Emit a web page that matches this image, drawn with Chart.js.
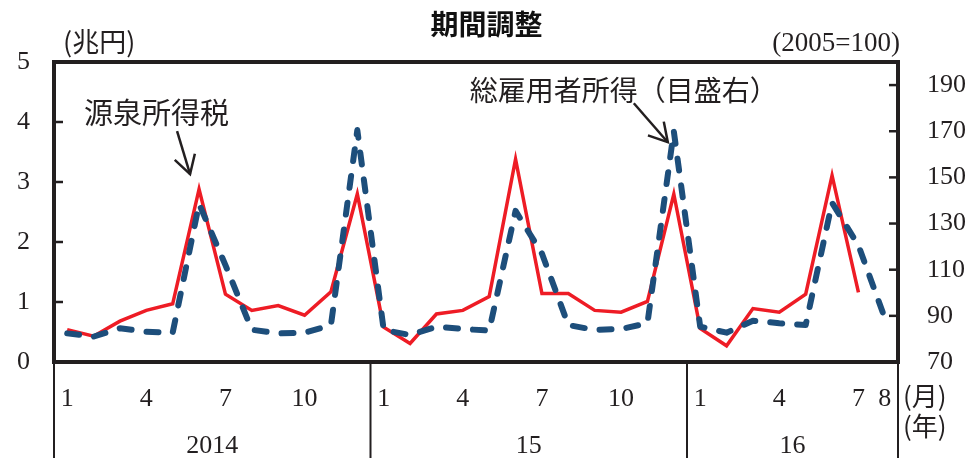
<!DOCTYPE html>
<html>
<head>
<meta charset="utf-8">
<script src="https://cdn.jsdelivr.net/npm/chart.js@4"></script>
<style>
  html, body { margin: 0; padding: 0; background: #ffffff; }
  #wrap { width: 973px; height: 458px; }
</style>
</head>
<body>
<div id="wrap"><canvas id="c" width="973" height="458"></canvas></div>
<script>
// Months, Jan 2014 – Aug 2016
const months = [1,2,3,4,5,6,7,8,9,10,11,12,
                1,2,3,4,5,6,7,8,9,10,11,12,
                1,2,3,4,5,6,7,8];
const years = ['2014', '15', '16'];
const yearStartIndex = [0, 12, 24];
const monthsShown = [1, 4, 7, 10];

// 源泉所得税 (兆円, left axis)
const withholdingTax = [0.54, 0.43, 0.68, 0.86, 0.97, 2.88, 1.13, 0.86, 0.94, 0.78, 1.17, 2.80,
                        0.58, 0.31, 0.80, 0.86, 1.09, 3.38, 1.14, 1.14, 0.86, 0.83, 1.01, 2.80,
                        0.56, 0.27, 0.89, 0.83, 1.13, 3.11, 1.16, null];

// 総雇用者所得 (2005=100, right axis)
const totalEmployeeIncome = [82.4, 81.0, 84.6, 83.1, 82.7, 138.5, 112.0, 84.0, 82.4, 82.7, 86.0, 170.5,
                             83.9, 81.7, 85.3, 84.3, 83.6, 135.5, 117.0, 86.0, 83.9, 84.3, 86.8, 170.0,
                             85.3, 82.7, 87.9, 86.8, 86.0, 139.0, 120.5, 89.0];

const leftTicks = [0, 1, 2, 3, 4, 5];
const rightTicks = [70, 90, 110, 130, 150, 170, 190];

const INK = '#231F20';
const SERIF = '"Liberation Serif", "DejaVu Serif", serif';
const JP = '"Noto Sans CJK JP", "Noto Sans", sans-serif';

// Frame, inward tick marks, year separators and annotations
const decorations = {
  id: 'decorations',
  afterDatasetsDraw(chart) {
    const ctx = chart.ctx;
    const a = chart.chartArea;
    const x = chart.scales.x, y = chart.scales.y, y1 = chart.scales.y1;
    const half = (x.getPixelForValue(1) - x.getPixelForValue(0)) / 2;
    ctx.save();
    ctx.strokeStyle = INK;
    ctx.lineCap = 'butt';

    // inward ticks, left axis
    ctx.lineWidth = 2.5;
    leftTicks.forEach(v => {
      if (v === 0 || v === 5) return;
      const py = y.getPixelForValue(v);
      ctx.beginPath(); ctx.moveTo(a.left, py); ctx.lineTo(a.left + 9, py); ctx.stroke();
    });
    // inward ticks, right axis
    rightTicks.forEach(v => {
      if (v === 70) return;
      const py = y1.getPixelForValue(v);
      ctx.beginPath(); ctx.moveTo(a.right, py); ctx.lineTo(a.right - 9, py); ctx.stroke();
    });

    // year separators under the axis
    ctx.lineWidth = 2;
    const bounds = yearStartIndex.map(i => x.getPixelForValue(i) - half).concat([a.right]);
    bounds.forEach(bx => {
      ctx.beginPath(); ctx.moveTo(bx, a.bottom); ctx.lineTo(bx, chart.height); ctx.stroke();
    });

    // year labels
    ctx.fillStyle = INK;
    ctx.font = '26px ' + SERIF;
    ctx.textAlign = 'center';
    ctx.textBaseline = 'middle';
    years.forEach((label, k) => {
      ctx.fillText(label, (bounds[k] + bounds[k + 1]) / 2, 446);
    });

    // (月) (年)
    ctx.font = '26px ' + JP;
    ctx.textAlign = 'left';
    ctx.fillText('(月)', a.right + 5, 396);
    ctx.fillText('(年)', a.right + 5, 426);

    // units
    ctx.font = '27px ' + JP;
    ctx.fillText('(兆円)', a.left + 9, 42);
    ctx.font = '27px ' + SERIF;
    ctx.textAlign = 'right';
    ctx.fillText('(2005=100)', a.right + 2, 44);

    // frame
    ctx.lineWidth = 4;
    ctx.strokeRect(a.left, a.top, a.right - a.left, a.bottom - a.top);

    // annotations, anchored on the peaks they point to
    const arrow = (tx, ty, hx, hy) => {
      ctx.lineWidth = 2.5;
      ctx.beginPath(); ctx.moveTo(tx, ty); ctx.lineTo(hx, hy); ctx.stroke();
      const ang = Math.atan2(ty - hy, tx - hx);
      const len = 21, spread = Math.PI / 6;
      ctx.beginPath();
      ctx.moveTo(hx + len * Math.cos(ang - spread), hy + len * Math.sin(ang - spread));
      ctx.lineTo(hx, hy);
      ctx.lineTo(hx + len * Math.cos(ang + spread), hy + len * Math.sin(ang + spread));
      ctx.stroke();
    };

    const px1 = x.getPixelForValue(5), py1 = y.getPixelForValue(withholdingTax[5]);
    ctx.font = '29px ' + JP;
    ctx.textAlign = 'left';
    ctx.textBaseline = 'middle';
    ctx.fillText('源泉所得税', px1 - 115, py1 - 76);
    arrow(px1 - 22, py1 - 58, px1 - 9, py1 - 15);

    const px2 = x.getPixelForValue(23), py2 = y1.getPixelForValue(totalEmployeeIncome[23]);
    ctx.font = '28px ' + JP;
    ctx.fillText('総雇用者所得（目盛右）', px2 - 204, py2 - 41);
    arrow(px2 - 40, py2 - 28, px2 - 6, py2 + 11);

    ctx.restore();
  }
};

new Chart(document.getElementById('c'), {
  type: 'line',
  data: {
    labels: months.map(String),
    datasets: [
      {
        label: '源泉所得税',
        data: withholdingTax,
        yAxisID: 'y',
        borderColor: '#EE1C25',
        borderWidth: 3.5,
        pointRadius: 0,
        tension: 0,
        spanGaps: false,
        order: 1
      },
      {
        label: '総雇用者所得（目盛右）',
        data: totalEmployeeIncome,
        yAxisID: 'y1',
        borderColor: '#1D4E7B',
        borderWidth: 6,
        borderDash: [12, 15],
        borderCapStyle: 'round',
        borderJoinStyle: 'round',
        pointRadius: 0,
        tension: 0,
        order: 0
      }
    ]
  },
  options: {
    responsive: false,
    animation: false,
    devicePixelRatio: 1,
    layout: { padding: 0 },
    plugins: {
      legend: { display: false },
      tooltip: { enabled: false },
      title: {
        display: true,
        text: '期間調整',
        color: '#111111',
        font: { family: JP, size: 28, weight: 'bold', lineHeight: 1.2 },
        padding: { top: 8, bottom: 20.4 }
      }
    },
    scales: {
      x: {
        type: 'category',
        offset: true,
        grid: { display: false, drawTicks: false },
        border: { display: false },
        ticks: {
          autoSkip: false,
          maxRotation: 0,
          minRotation: 0,
          padding: 22,
          color: INK,
          font: { family: SERIF, size: 26 },
          callback: (val, i) => (monthsShown.includes(months[i]) || i === months.length - 1) ? String(months[i]) : ''
        },
        afterFit: s => { s.height = 96; }
      },
      y: {
        position: 'left',
        min: 0,
        max: 5,
        grid: { display: false, drawTicks: false },
        border: { display: false },
        ticks: { stepSize: 1, padding: 24, color: INK, font: { family: SERIF, size: 26 } },
        afterBuildTicks: s => { s.ticks = leftTicks.map(v => ({ value: v })); },
        afterFit: s => { s.width = 54; }
      },
      y1: {
        position: 'right',
        min: 70,
        max: 200,
        grid: { display: false, drawTicks: false },
        border: { display: false },
        ticks: { padding: 29, color: INK, font: { family: SERIF, size: 26 } },
        afterBuildTicks: s => { s.ticks = rightTicks.map(v => ({ value: v })); },
        afterFit: s => { s.width = 75; }
      }
    }
  },
  plugins: [decorations]
});
</script>
</body>
</html>
